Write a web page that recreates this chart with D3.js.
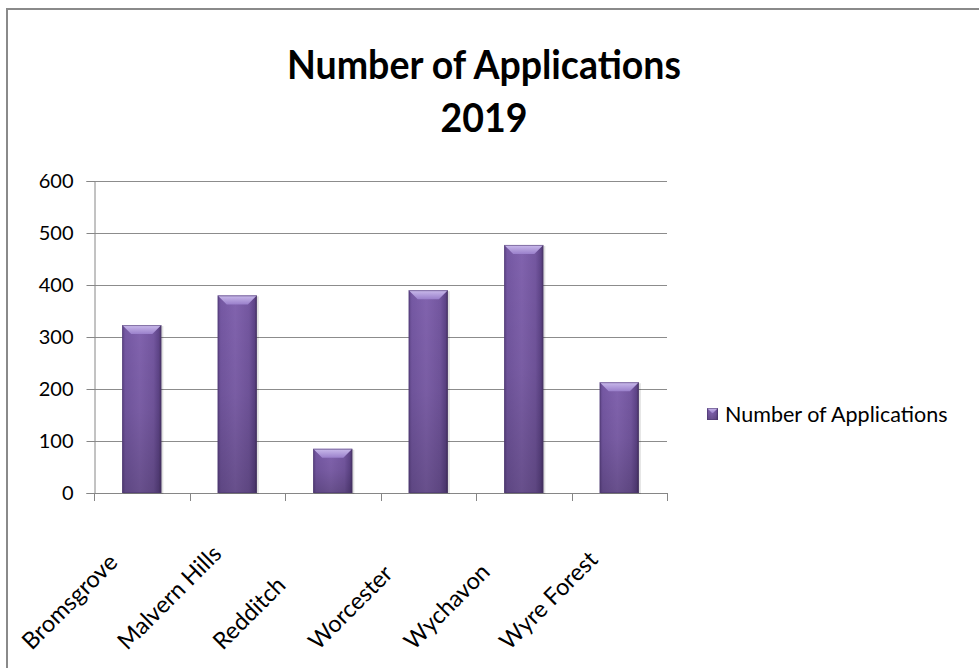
<!DOCTYPE html>
<html>
<head>
<meta charset="utf-8">
<script src="https://cdn.jsdelivr.net/npm/d3@7"></script>
<style>
  html, body { margin: 0; padding: 0; background: #fff; }
  svg { display: block; }
</style>
</head>
<body>
<script>
// ---- data ----
const categories = ["Bromsgrove", "Malvern Hills", "Redditch", "Worcester", "Wychavon", "Wyre Forest"];
const applications = [323, 380, 85, 390, 477, 213];
const yTicks = [0, 100, 200, 300, 400, 500, 600];
const titleLines = ["Number of Applications", "2019"];
const seriesName = "Number of Applications";

// ---- layout ----
const W = 979, H = 668;
const plot = { left: 94, right: 667, top: 181, bottom: 493 };
const FONT = "Lato, 'Open Sans', 'DejaVu Sans', sans-serif";

const svg = d3.select("body").append("svg").attr("width", W).attr("height", H);

// defs
const defs = svg.append("defs");
const gBody = defs.append("linearGradient").attr("id", "barBody").attr("x1", 0).attr("x2", 1).attr("y1", 0).attr("y2", 0);
[[0, "#5f4589"], [0.08, "#7558a3"], [0.45, "#8163ae"], [0.8, "#7457a0"], [0.94, "#5e4488"], [1, "#46325f"]]
  .forEach(([o, c]) => gBody.append("stop").attr("offset", o).attr("stop-color", c));
const gShade = defs.append("linearGradient").attr("id", "barShade").attr("x1", 0).attr("x2", 0).attr("y1", 0).attr("y2", 1);
[[0, "#000", 0], [0.5, "#000", 0.06], [1, "#000", 0.2]]
  .forEach(([o, c, a]) => gShade.append("stop").attr("offset", o).attr("stop-color", c).attr("stop-opacity", a));
const gBevel = defs.append("linearGradient").attr("id", "barBevel").attr("x1", 0).attr("x2", 0).attr("y1", 0).attr("y2", 1);
[[0, "#cbbcec"], [1, "#9a80cb"]]
  .forEach(([o, c]) => gBevel.append("stop").attr("offset", o).attr("stop-color", c));

// chart frame
svg.append("rect").attr("x", 7).attr("y", 9).attr("width", W + 20).attr("height", H + 20)
  .attr("fill", "#fff").attr("stroke", "#8a8a8a").attr("stroke-width", 2);

// title (condensed to mimic the original's narrow bold face)
const titleCenter = 484;
svg.append("g").attr("transform", `translate(${titleCenter},0) scale(0.915,1)`)
  .append("text")
  .attr("x", 0).attr("y", 79)
  .attr("text-anchor", "middle")
  .attr("font-family", FONT).attr("font-weight", 700).attr("font-size", 41)
  .attr("fill", "#000")
  .selectAll("tspan").data(titleLines).join("tspan")
  .attr("x", 0).attr("dy", (d, i) => i === 0 ? 0 : 53)
  .text(d => d);

// scales
const x = d3.scaleBand().domain(categories).range([plot.left, plot.right]).paddingInner(0.59).paddingOuter(0.295);
const y = d3.scaleLinear().domain([0, 600]).range([plot.bottom, plot.top]);
const step = x.step();

// gridlines
svg.append("g").selectAll("line").data(yTicks.filter(t => t > 0)).join("line")
  .attr("x1", plot.left).attr("x2", plot.right)
  .attr("y1", d => Math.round(y(d)) + 0.5).attr("y2", d => Math.round(y(d)) + 0.5)
  .attr("stroke", "#8c8c8c").attr("stroke-width", 1);

// y axis
const yAxis = d3.axisLeft(y).tickValues(yTicks).tickSize(8).tickPadding(13).tickFormat(d3.format("d"));
const gy = svg.append("g").attr("transform", `translate(${plot.left + 0.5},0)`).call(yAxis);
gy.select(".domain").attr("stroke", "#868686");
gy.selectAll(".tick line").attr("stroke", "#868686");
gy.selectAll(".tick text").attr("font-family", FONT).attr("font-size", 20).attr("fill", "#000");

// x axis line + ticks at category boundaries
const gx = svg.append("g");
gx.append("line").attr("x1", plot.left).attr("x2", plot.right)
  .attr("y1", plot.bottom + 0.5).attr("y2", plot.bottom + 0.5).attr("stroke", "#868686");
const bounds = d3.range(categories.length + 1).map(i => plot.left + i * step);
gx.selectAll("line.tk").data(bounds).join("line").attr("class", "tk")
  .attr("x1", d => Math.round(d) + 0.5).attr("x2", d => Math.round(d) + 0.5)
  .attr("y1", plot.bottom).attr("y2", plot.bottom + 8).attr("stroke", "#868686");

// x labels (rotated)
gx.selectAll("text").data(categories).join("text")
  .attr("transform", d => `translate(${x(d) + x.bandwidth() / 2 - 110},${plot.bottom + 158}) rotate(-45)`)
  .attr("text-anchor", "start")
  .attr("font-family", FONT).attr("font-size", 23.5).attr("fill", "#000")
  .text(d => d);

// bars
const data = categories.map((c, i) => ({ c, v: applications[i] }));
const bevel = 9;
function drawBar(g, x0, x1, y0, y1, b) {
  g.append("rect").attr("x", x0).attr("y", y0).attr("width", x1 - x0).attr("height", y1 - y0).attr("fill", "url(#barBody)");
  g.append("rect").attr("x", x0).attr("y", y0).attr("width", x1 - x0).attr("height", y1 - y0).attr("fill", "url(#barShade)");
  g.append("path")
    .attr("d", `M${x0},${y0}L${x1},${y0}L${x1 - b},${y0 + b}L${x0 + b},${y0 + b}Z`)
    .attr("fill", "url(#barBevel)");
  g.append("rect").attr("x", x0 + 0.5).attr("y", y0 + 0.5).attr("width", x1 - x0 - 1).attr("height", y1 - y0 - 1)
    .attr("fill", "none").attr("stroke", "#4d3870").attr("stroke-opacity", 0.55);
}
const gb = svg.append("g");
data.forEach(d => {
  const x0 = x(d.c), x1 = x(d.c) + x.bandwidth();
  gb.append("rect").attr("x", x0 + 1).attr("y", y(d.v) + 1).attr("width", x.bandwidth() + 1).attr("height", plot.bottom - y(d.v))
    .attr("fill", "#000").attr("opacity", 0.12);
  drawBar(gb.append("g"), x0, x1, y(d.v), plot.bottom, bevel);
});

// legend
const lg = svg.append("g");
drawBar(lg.append("g"), 707, 718, 408, 420, 5);
lg.append("text").attr("x", 725).attr("y", 414).attr("dy", "0.36em")
  .attr("font-family", FONT).attr("font-size", 21.5).attr("fill", "#000")
  .text(seriesName);
</script>
</body>
</html>
